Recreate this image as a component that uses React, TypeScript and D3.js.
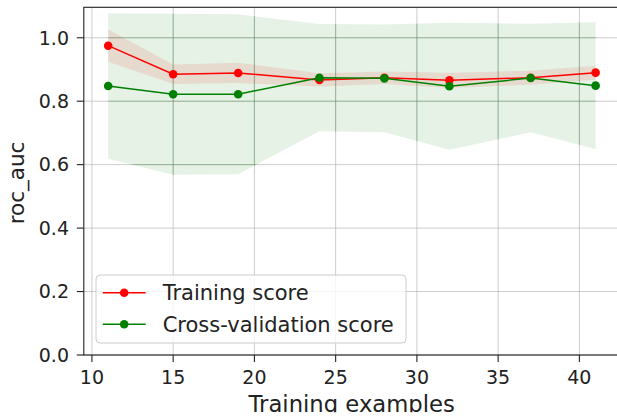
import { FC, useMemo } from 'react';
import * as d3 from 'd3';

const trainSizes = [11, 15, 19, 24, 28, 32, 37, 41];
const trainMean = [0.975, 0.885, 0.889, 0.867, 0.874, 0.866, 0.874, 0.89];
const trainStd = [0.051, 0.031, 0.032, 0.021, 0.02, 0.024, 0.022, 0.022];
const cvMean = [0.848, 0.822, 0.822, 0.874, 0.872, 0.847, 0.873, 0.849];
const cvStd = [0.229, 0.254, 0.252, 0.169, 0.17, 0.2, 0.171, 0.2];
const xTicks = [10, 15, 20, 25, 30, 35, 40];
const yTicks = [0, 0.2, 0.4, 0.6, 0.8, 1.0];
const legendLabels = ['Training score', 'Cross-validation score'];

const W = 617;
const H = 419;
const FONT = '"DejaVu Sans", sans-serif';

const App: FC = () => {
    const left = 83.8, right = 620, top = 7.3, bottom = 355;

    const x = d3.scaleLinear().domain([9.5, 42.5]).range([left, right]);
    const y = d3.scaleLinear().domain([0, 1.096]).range([bottom, top]);

    const idx = trainSizes.map((_, i) => i);

    const band = (mean: number[], std: number[]) =>
        d3.area<number>()
            .x(i => x(trainSizes[i]))
            .y0(i => y(mean[i] - std[i]))
            .y1(i => y(mean[i] + std[i]))(idx) || '';

    const line = (mean: number[]) =>
        d3.line<number>()
            .x(i => x(trainSizes[i]))
            .y(i => y(mean[i]))(idx) || '';

    const trainBand = useMemo(() => band(trainMean, trainStd), []);
    const cvBand = useMemo(() => band(cvMean, cvStd), []);

    const gridLines = (stroke: string, opacity: number) => (
        <g stroke={stroke} strokeOpacity={opacity} strokeWidth={1}>
            {xTicks.map(t => (
                <line key={'gx' + t} x1={x(t)} x2={x(t)} y1={top} y2={bottom} />
            ))}
            {yTicks.map(t => (
                <line key={'gy' + t} x1={left} x2={right} y1={y(t)} y2={y(t)} />
            ))}
        </g>
    );

    const series = [
        { mean: trainMean, color: '#ff0000' },
        { mean: cvMean, color: '#008000' },
    ];

    return (
        <svg width={W} height={H} style={{ position: 'absolute', left: 0, top: 0 }}
            fontFamily={FONT}>
            <defs>
                <clipPath id="plotArea">
                    <rect x={left} y={top} width={right - left} height={bottom - top} />
                </clipPath>
                <clipPath id="cvBandClip">
                    <path d={cvBand} />
                </clipPath>
                {/* the source picture is cut just under the x label's baseline */}
                <clipPath id="pageCut">
                    <rect x={0} y={0} width={W} height={412.3} />
                </clipPath>
            </defs>
            <rect x={0} y={0} width={W} height={H} fill="#fff" />

            {gridLines('#b0b0b0', 0.65)}

            <g clipPath="url(#plotArea)">
                <path d={trainBand} fill="#ff0000" fillOpacity={0.1} />
                <path d={cvBand} fill="#008000" fillOpacity={0.1} />
                <g clipPath="url(#cvBandClip)">{gridLines('#2e7d32', 0.25)}</g>

                {series.map(s => (
                    <g key={s.color}>
                        <path d={line(s.mean)} fill="none" stroke={s.color} strokeWidth={1.5} />
                        {s.mean.map((v, i) => (
                            <circle key={i} cx={x(trainSizes[i])} cy={y(v)} r={4.3} fill={s.color} />
                        ))}
                    </g>
                ))}
            </g>

            {/* spines */}
            <rect x={left} y={top} width={right - left} height={bottom - top}
                fill="none" stroke="#222" strokeWidth={1.1} />

            {/* x axis */}
            {xTicks.map(t => (
                <g key={'xt' + t}>
                    <line x1={x(t)} x2={x(t)} y1={bottom} y2={bottom + 7} stroke="#222" strokeWidth={1.1} />
                    <text x={x(t)} y={383.5} textAnchor="middle" fontSize={19} fill="#222">{t}</text>
                </g>
            ))}
            {/* y axis */}
            {yTicks.map(t => (
                <g key={'yt' + t}>
                    <line x1={left - 7} x2={left} y1={y(t)} y2={y(t)} stroke="#222" strokeWidth={1.1} />
                    <text x={69} y={y(t)} dy="0.36em" textAnchor="end" fontSize={19} fill="#222">
                        {t.toFixed(1)}
                    </text>
                </g>
            ))}

            <g clipPath="url(#pageCut)">
                <text x={351.7} y={412} textAnchor="middle" fontSize={22.7} fill="#222">
                    Training examples
                </text>
            </g>
            <text transform="translate(24,183) rotate(-90)" textAnchor="middle" fontSize={21.5} fill="#222">
                roc_auc
            </text>

            {/* legend */}
            <g>
                <rect x={96} y={275} width={310} height={68} rx={4} ry={4}
                    fill="#fff" fillOpacity={0.8} stroke="#cccccc" strokeWidth={1} />
                {series.map((s, i) => {
                    const ly = 292.7 + i * 31.6;
                    return (
                        <g key={'lg' + i}>
                            <line x1={102.7} x2={145.7} y1={ly} y2={ly} stroke={s.color} strokeWidth={1.5} />
                            <circle cx={124.2} cy={ly} r={4.3} fill={s.color} />
                            <text x={162.7} y={ly + 7.3} fontSize={21} fill="#222">{legendLabels[i]}</text>
                        </g>
                    );
                })}
            </g>
        </svg>
    );
};

export default App;
